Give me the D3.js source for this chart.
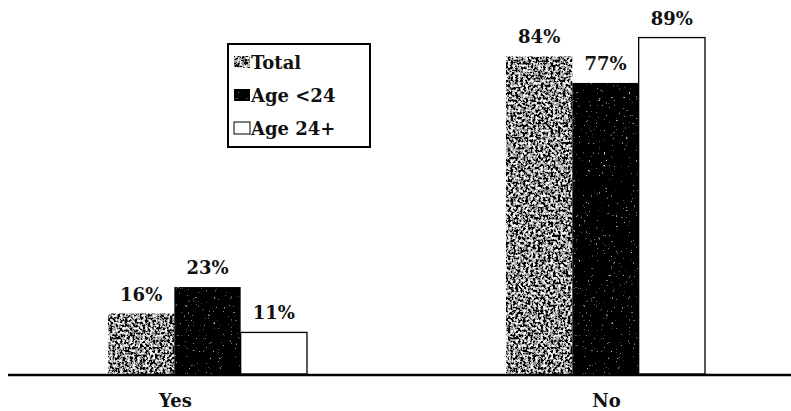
<!DOCTYPE html>
<html><head><meta charset="utf-8">
<script src="https://cdn.jsdelivr.net/npm/d3@7"></script>
<style>html,body{margin:0;padding:0;background:#fff;}
text{font-family:"DejaVu Serif","Liberation Serif",serif;font-weight:bold;}</style>
</head><body>
<svg id="c" width="791" height="411"></svg>
<script>
const categories = ["Yes", "No"];
const seriesNames = ["Total", "Age <24", "Age 24+"];
const totalValues = [16, 84];
const under24Values = [23, 77];
const over24Values = [11, 89];
const valueLabels = [["16%", "23%", "11%"], ["84%", "77%", "89%"]];

const seriesValues = [totalValues, under24Values, over24Values];
const svg = d3.select("#c");

const defs = svg.append("defs");
function noiseFilter(id, slope, intercept, freq) {
  const f = defs.append("filter").attr("id", id)
    .attr("x", 0).attr("y", 0).attr("width", 1).attr("height", 1);
  f.append("feTurbulence").attr("type", "fractalNoise")
    .attr("baseFrequency", freq).attr("numOctaves", 3).attr("seed", 3).attr("result", "n");
  f.append("feColorMatrix").attr("in", "n").attr("type", "matrix")
    .attr("values", "1 0 0 0 0  1 0 0 0 0  1 0 0 0 0  0 0 0 0 1").attr("result", "g");
  const ct = f.append("feComponentTransfer").attr("in", "g").attr("result", "c");
  ["feFuncR", "feFuncG", "feFuncB"].forEach(k =>
    ct.append(k).attr("type", "linear").attr("slope", slope).attr("intercept", intercept));
  f.append("feComposite").attr("in", "c").attr("in2", "SourceGraphic").attr("operator", "in");
}
noiseFilter("texTotal", 3.5, -1.45, 0.4);
noiseFilter("texUnder", 4, -2.9, 0.4);

const fills = ["#777", "#111", "#fff"];
const filters = ["url(#texTotal)", "url(#texUnder)", null];

const x0 = d3.scaleBand().domain(categories).range([8.5, 804.5])
  .paddingInner(0.5).paddingOuter(0.25);
const x1 = d3.scaleBand().domain(seriesNames).range([0, x0.bandwidth()]);
const y = d3.scaleLinear().domain([0, 100]).range([374, -4]);

const groups = svg.selectAll("g.grp").data(categories).join("g")
  .attr("class", "grp")
  .attr("transform", d => `translate(${x0(d)},0)`);

groups.each(function(cat, ci) {
  const g = d3.select(this);
  seriesNames.forEach((s, si) => {
    const v = seriesValues[si][ci];
    const r = g.append("rect")
      .attr("x", x1(s)).attr("y", y(v))
      .attr("width", x1.bandwidth()).attr("height", y(0) - y(v))
      .attr("fill", fills[si]);
    if (filters[si]) r.attr("filter", filters[si]);
    if (si === 2) r.attr("stroke", "#000").attr("stroke-width", 1.3);
    g.append("text")
      .attr("x", x1(s) + x1.bandwidth() / 2).attr("y", y(v) - 13)
      .attr("text-anchor", "middle")
      .attr("font-size", 18)
      .attr("fill", "#111").text(valueLabels[ci][si]);
  });
});

// axis baseline
svg.append("line").attr("x1", 8).attr("x2", 791).attr("y1", y(0) + 1).attr("y2", y(0) + 1)
  .attr("stroke", "#000").attr("stroke-width", 2.5);

// category labels
svg.selectAll("text.cat").data(categories).join("text").attr("class", "cat")
  .attr("x", d => x0(d) + x0.bandwidth() / 2 + (d === "Yes" ? -32 : 1))
  .attr("y", 407)
  .attr("text-anchor", "middle")
  .attr("font-size", 18)
  .attr("fill", "#111").text(d => d);

// legend
const lg = svg.append("g");
lg.append("rect").attr("x", 228).attr("y", 44).attr("width", 142).attr("height", 103)
  .attr("fill", "#fff").attr("stroke", "#000").attr("stroke-width", 2);
seriesNames.forEach((s, i) => {
  const cy = 62 + i * 33;
  const sw = lg.append("rect").attr("x", 234).attr("y", cy - 6).attr("width", 16).attr("height", 12)
    .attr("fill", fills[i]);
  if (filters[i]) sw.attr("filter", filters[i]);
  if (i === 2) sw.attr("stroke", "#000").attr("stroke-width", 1);
  lg.append("text").attr("x", 251).attr("y", cy + 7)
    .attr("font-size", 18)
    .attr("fill", "#111").text(s);
});
</script>
</body></html>
